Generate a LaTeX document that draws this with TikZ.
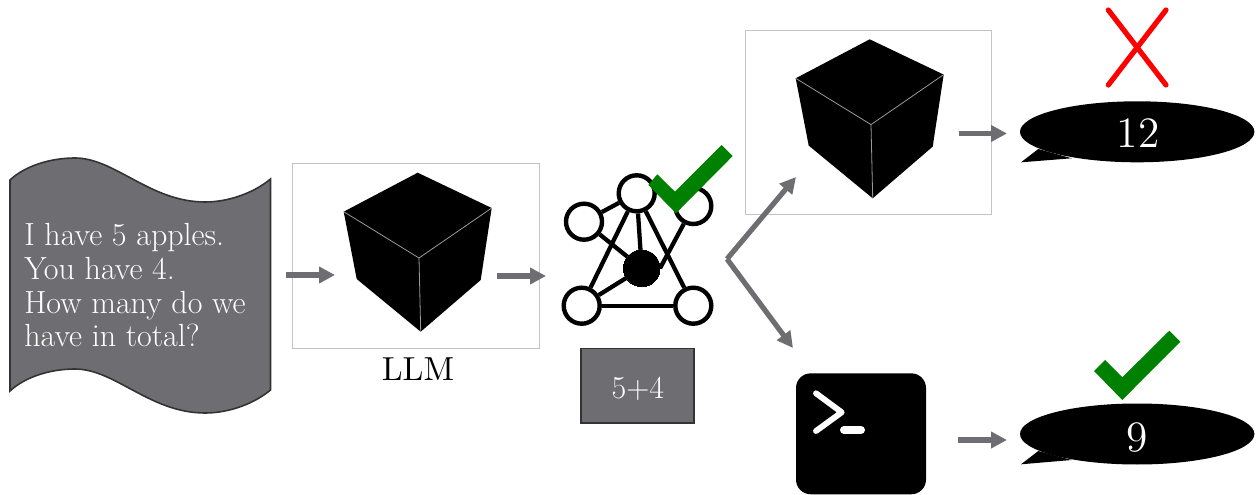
\documentclass[tikz,border=0pt]{standalone}
\usepackage{fontspec}
\usetikzlibrary{arrows.meta}
\newfontfamily\lmten[Extension=.otf]{lmroman10-regular}
\newfontfamily\lmtwelve[Extension=.otf]{lmroman12-regular}
\definecolor{flowgray}{HTML}{6E6D72}
\definecolor{framegray}{HTML}{C4C4C4}
\definecolor{darkedge}{HTML}{333333}
\definecolor{checkgreen}{HTML}{008000}
\tikzset{
  flowarrow/.style={draw=flowgray,line width=3.9pt,-{Triangle[length=12pt,width=12pt]}},
  framebox/.style={draw=framegray,line width=0.75pt,fill=white,rectangle,inner sep=0pt},
  netnode/.style={circle,draw=black,fill=white,line width=3.3pt,minimum size=27pt,inner sep=0pt},
  hubnode/.style={circle,fill=black,draw=black,minimum size=27.5pt,inner sep=0pt,line width=0pt},
  netedge/.style={draw=black,line width=3.2pt},
  checkmark/.style={fill=checkgreen,draw=none},
  crossline/.style={draw=red,line width=3.9pt,line cap=round},
  bubble/.style={fill=black,draw=none},
  whitetext/.style={text=white,inner sep=0pt},
  cubeedge/.style={draw=gray!80,line width=0.6pt},
  cube/.pic={
    \fill[black] (417.7,172.7) -- (491.7,208) -- (480.7,280) -- (420.7,331.7) -- (356.7,279) -- (343.7,211.7) -- cycle;
    \draw[cubeedge] (343.7,211.7) -- (419,258) -- (491.7,208);
    \draw[cubeedge] (419,258) -- (420.7,331.7);
  }
}
\begin{document}
\begin{tikzpicture}[x=0.75pt,y=-0.75pt]
\useasboundingbox (0,0) rectangle (1257,495);

% input scroll
\path[fill=flowgray,draw=darkedge,line width=1.2pt]
  (10,180) .. controls (25,166) and (50,158) .. (75,158)
  .. controls (115,158) and (150,202) .. (205,202)
  .. controls (230,202) and (255,192) .. (270.5,179)
  -- (270.5,390)
  .. controls (255,403) and (230,413) .. (205,413)
  .. controls (150,413) and (115,369) .. (75,369)
  .. controls (50,369) and (25,377) .. (10,391) -- cycle;
\node[whitetext,anchor=base west,align=left,font=\fontsize{24}{25.3}\selectfont] (question) at (24,347)
  {I have 5 apples.\\You have 4.\\How many do we\\have in total?};

% LLM frames and cubes
\node[framebox,minimum width=185.6pt,minimum height=138.4pt] (llmframe) at (415.75,255.75) {};
\pic at (0,0) {cube};
\node[inner sep=0pt,anchor=base,font=\lmten\fontsize{25}{30}\selectfont] (llmlabel) at (418,380) {LLM};

\node[framebox,minimum width=184.5pt,minimum height=138.7pt] (topframe) at (868.5,122.5) {};
\pic at (452,-133.4) {cube};

% network icon
\node[netnode] (nt) at (636.7,193.3) {};
\node[netnode] (nul) at (584,221.7) {};
\node[netnode] (nur) at (693.3,206) {};
\node[netnode] (nll) at (581.7,305.7) {};
\node[netnode] (nlr) at (693.3,305.7) {};
\node[hubnode] (hub) at (641.7,268.3) {};
\draw[netedge] (nt) -- (nul);
\draw[netedge] (nt) -- (hub);
\draw[netedge] (nt) -- (nll);
\draw[netedge] (nt) -- (nlr);
\draw[netedge] (nul) -- (hub);
\draw[netedge] (nur) -- (hub.east);
\draw[netedge] (nll) -- (hub);
\draw[netedge] (nll) -- (nlr);

% check on the network
\fill[checkmark] (657.3,174.3) -- (675,191.7) -- (721.7,145) -- (732.7,156) -- (676,213.3) -- (648.3,185) -- cycle;

% 5+4 box
\node[rectangle,fill=flowgray,draw=darkedge,line width=1.2pt,minimum width=84.7pt,minimum height=56.2pt,inner sep=0pt] (calc) at (637.5,385.8) {};
\node[whitetext,anchor=base,font=\fontsize{24}{28}\selectfont] (calctext) at (637.8,398.3) {5+4};

% terminal icon
\node[rectangle,rounded corners=11pt,fill=black,minimum width=97.5pt,minimum height=90.7pt,inner sep=0pt] (terminal) at (861,433.8) {};
\coordinate (pa) at (816,393.3);
\coordinate (pb) at (841.7,412.3);
\coordinate (pc) at (816,431);
\coordinate (pd) at (844,430);
\coordinate (pe) at (861,430);
\draw[white,line width=4.4pt,line cap=round,line join=round] (pa) -- (pb) -- (pc);
\draw[white,line width=6pt,line cap=round] (pd) -- (pe);

% speech bubbles
\fill[bubble] (1137.2,131.8) ellipse [x radius=117.2,y radius=30.5];
\fill[bubble] (1038.3,149) -- (1021,162.3) -- (1071.7,158.3) -- cycle;
\node[whitetext,anchor=base,font=\lmtwelve\fontsize{32.5}{38}\selectfont] (answerwrong) at (1138,148) {12};
\fill[bubble] (1137.2,434) ellipse [x radius=117.2,y radius=30.5];
\fill[bubble] (1038.3,451) -- (1021,464.3) -- (1071.7,460) -- cycle;
\node[whitetext,anchor=base,font=\lmtwelve\fontsize{32.5}{38}\selectfont] (answerright) at (1137,451) {9};

% cross and check
\coordinate (xa) at (1108.3,10);
\coordinate (xb) at (1166,85);
\coordinate (xc) at (1166,10);
\coordinate (xd) at (1108.3,85);
\draw[crossline] (xa) -- (xb);
\draw[crossline] (xc) -- (xd);
\fill[checkmark] (1105,360) -- (1122.3,377.3) -- (1169.3,330.7) -- (1180.3,341.7) -- (1122.3,400) -- (1094,371) -- cycle;

% arrows
\coordinate (a1s) at (286,275);
\coordinate (a1e) at (335,275);
\coordinate (a2s) at (497,276);
\coordinate (a2e) at (546,276);
\coordinate (fork) at (727,259);
\coordinate (forkup) at (796,177);
\coordinate (forkdown) at (793,348);
\coordinate (a3s) at (959,133.5);
\coordinate (a3e) at (1007,133.5);
\coordinate (a4s) at (958,440);
\coordinate (a4e) at (1007,440);
\draw[flowarrow] (a1s) -- (a1e);
\draw[flowarrow] (a2s) -- (a2e);
\draw[flowarrow] (fork) -- (forkup);
\draw[flowarrow] (fork) -- (forkdown);
\draw[flowarrow] (a3s) -- (a3e);
\draw[flowarrow] (a4s) -- (a4e);
\end{tikzpicture}
\end{document}
